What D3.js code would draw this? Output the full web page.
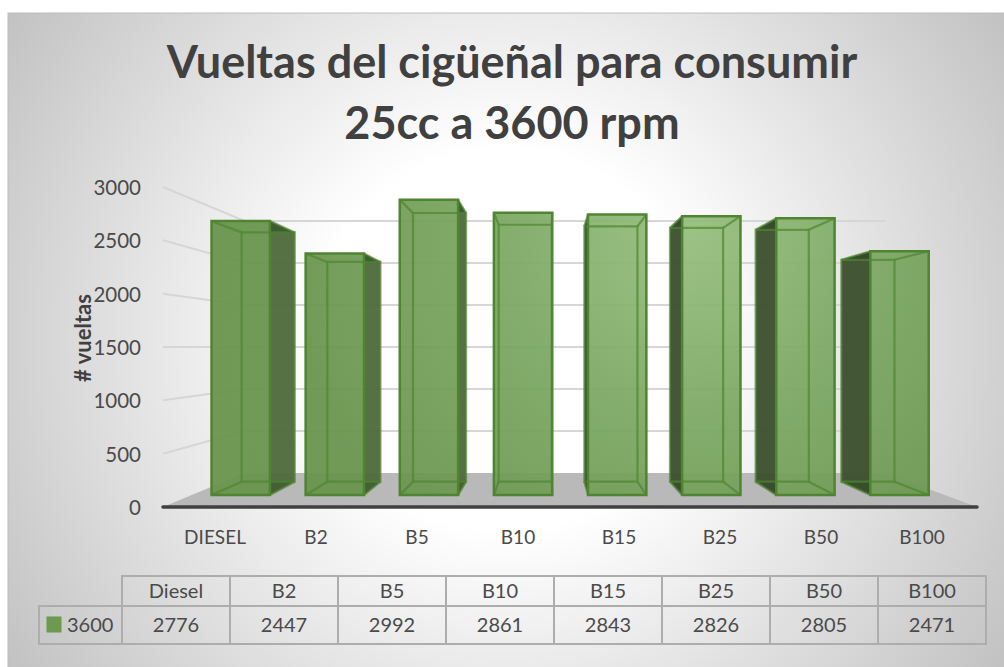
<!DOCTYPE html>
<html>
<head>
<meta charset="utf-8">
<script src="https://cdn.jsdelivr.net/npm/d3@7"></script>
<style>
html,body{margin:0;padding:0;background:#fff;overflow:hidden}
svg{display:block}
text{font-family:Lato,"Open Sans",sans-serif}
</style>
</head>
<body>
<svg id="chart" width="1004" height="667"></svg>
<script>
// Chart data
const axisCategories = ["DIESEL","B2","B5","B10","B15","B25","B50","B100"];
const tableCategories = ["Diesel","B2","B5","B10","B15","B25","B50","B100"];
const turns3600 = [2776,2447,2992,2861,2843,2826,2805,2471];
const yTicks = [0,500,1000,1500,2000,2500,3000];
const seriesName = "3600";
const titleLines = ["Vueltas del cigüeñal para consumir","25cc a 3600 rpm"];
const yAxisLabel = "# vueltas";

const svg = d3.select("#chart");
const defs = svg.append("defs");

// Chart area background
const bg = defs.append("radialGradient").attr("id","bgGrad")
  .attr("gradientUnits","userSpaceOnUse")
  .attr("cx",506).attr("cy",340).attr("r",595);
bg.append("stop").attr("offset","0.32").attr("stop-color","#ffffff");
bg.append("stop").attr("offset","1").attr("stop-color","#c2c2c2");

// Bar face tint: lighter around the middle of the plot
const barFill = defs.append("radialGradient").attr("id","barGrad")
  .attr("gradientUnits","userSpaceOnUse")
  .attr("cx",690).attr("cy",230).attr("r",400);
barFill.append("stop").attr("offset","0").attr("stop-color","#96bf7e");
barFill.append("stop").attr("offset","0.5").attr("stop-color","#7ba762");
barFill.append("stop").attr("offset","1").attr("stop-color","#69944d");

svg.append("rect").attr("x",8).attr("y",13).attr("width",1010).attr("height",670)
  .attr("fill","url(#bgGrad)").attr("stroke","#bdbdbd").attr("stroke-width",1);

// Front plane scales, projected toward a vanishing point for depth
const vp = {x:547,y:347};
const y = d3.scaleLinear().domain([0,3000]).range([507,187]);
const xBar = d3.scaleBand().domain(axisCategories).range([165,979]).paddingInner(0.38).paddingOuter(0.19);
const depth = d3.scaleLinear().domain([0,1]).range([1,0.7875]);
const barFront = 0.925, barBack = 0.842;
const project = (px,py,s) => [vp.x+(px-vp.x)*s, vp.y+(py-vp.y)*s];
const poly = pts => pts.map(p=>p.join(",")).join(" ");

// Floor and walls
const x0 = 163, x1 = 977;
const floor = [[x0,y(0)],[x1,y(0)],project(x1,y(0),depth(1)),project(x0,y(0),depth(1))];
svg.append("polygon").attr("points",poly(floor)).attr("fill","#b9b9b9");

const grid = svg.append("g").attr("fill","none").attr("stroke","#d6d6d6").attr("stroke-width",2);
yTicks.filter(t=>t>0).forEach(t=>{
  const a = [x0,y(t)], b = project(x0,y(t),depth(1)), c = project(x1,y(t),depth(1));
  grid.append("polyline").attr("points",poly([a,b,c]));
});

// Value axis
const yAxis = d3.axisLeft(y).tickValues(yTicks).tickSize(0).tickPadding(22).tickFormat(d3.format("d"));
const yG = svg.append("g").attr("transform",`translate(${x0},0)`).call(yAxis);
yG.select(".domain").remove();
yG.selectAll("text").attr("font-size",20.5).attr("fill","#4a4a4a").attr("dy","0.36em");

// Bars as translucent perspective boxes; a side wall only shows where it clears the front face
const bars = svg.append("g");
turns3600.forEach((v,i)=>{
  const L = xBar(axisCategories[i]), R = L+xBar.bandwidth(), T = y(v), B = y(0);
  const fTL=project(L,T,barFront), fTR=project(R,T,barFront), fBL=project(L,B,barFront), fBR=project(R,B,barFront);
  const bTL=project(L,T,barBack), bTR=project(R,T,barBack), bBL=project(L,B,barBack), bBR=project(R,B,barBack);
  const g = bars.append("g");
  const wall = (fT,bT,bB,fB,color)=>{
    g.append("polygon").attr("points",poly([fT,bT,bB,fB])).attr("fill",color).attr("fill-opacity",0.96);
    g.append("polygon").attr("points",poly([fT,bT,[fT[0],bT[1]]])).attr("fill","#24401a").attr("fill-opacity",0.45);
    g.append("polygon").attr("points",poly([fB,bB,[fB[0],bB[1]]])).attr("fill","#24401a").attr("fill-opacity",0.3);
  };
  if (bTL[0] < fTL[0]) wall(fTL,bTL,bBL,fBL,"#3c5130");
  if (bTR[0] > fTR[0]) wall(fTR,bTR,bBR,fBR,"#4f6c3d");
  g.append("polygon").attr("points",poly([fTL,fTR,fBR,fBL])).attr("fill","url(#barGrad)").attr("fill-opacity",0.94);
  const inner = g.append("g").attr("fill","none").attr("stroke","#4f8530").attr("stroke-opacity",0.7).attr("stroke-width",2.2);
  inner.append("polygon").attr("points",poly([bTL,bTR,bBR,bBL]));
  [[fTL,bTL],[fTR,bTR],[fBL,bBL],[fBR,bBR]].forEach(s=>inner.append("polyline").attr("points",poly(s)));
  g.append("polygon").attr("points",poly([fTL,fTR,fBR,fBL])).attr("fill","none").attr("stroke","#4f8530").attr("stroke-width",2.5);
});

// Front axis line
svg.append("line").attr("x1",x0).attr("x2",x1).attr("y1",y(0)).attr("y2",y(0))
  .attr("stroke","#404040").attr("stroke-width",3.5).attr("stroke-linecap","round");

// Category labels
const xLabel = d3.scalePoint().domain(axisCategories).range([215,922]);
svg.append("g").selectAll("text").data(axisCategories).join("text")
  .attr("x",d=>xLabel(d)).attr("y",544).attr("text-anchor","middle")
  .attr("font-size",19).attr("fill","#4a4a4a").text(d=>d);

// Title
svg.append("g").selectAll("text").data(titleLines).join("text")
  .attr("x",512).attr("y",(d,i)=>78+i*61).attr("text-anchor","middle")
  .attr("font-size",45).attr("font-weight",700).attr("fill","#404040").text(d=>d);

// Value axis title
svg.append("text").attr("transform","translate(91,338) rotate(-90)")
  .attr("text-anchor","middle").attr("font-size",22).attr("font-weight",700)
  .attr("fill","#404040").text(yAxisLabel);

// Data table
const tableRight = 986;
const col = d3.scaleBand().domain(tableCategories).range([122,tableRight]);
const rowTop = 576, rowMid = 606, rowBot = 644, tableLeft = 39;
const table = svg.append("g");
const lines = table.append("g").attr("stroke","#adadad").attr("stroke-width",2).attr("fill","none");
lines.append("polyline").attr("points",poly([[122,rowBot],[122,rowTop],[tableRight,rowTop],[tableRight,rowBot]]));
lines.append("rect").attr("x",tableLeft).attr("y",rowMid).attr("width",tableRight-tableLeft).attr("height",rowBot-rowMid);
lines.selectAll("line").data(tableCategories.slice(1)).join("line")
  .attr("x1",d=>col(d)).attr("x2",d=>col(d)).attr("y1",rowTop).attr("y2",rowBot);
table.selectAll("text.head").data(tableCategories).join("text").attr("class","head")
  .attr("x",d=>col(d)+col.bandwidth()/2).attr("y",598).attr("text-anchor","middle")
  .attr("font-size",20).attr("fill","#4a4a4a").text(d=>d);
table.selectAll("text.val").data(turns3600).join("text").attr("class","val")
  .attr("x",(d,i)=>col(tableCategories[i])+col.bandwidth()/2).attr("y",632).attr("text-anchor","middle")
  .attr("font-size",20).attr("fill","#4a4a4a").text(d=>d);
table.append("rect").attr("x",47).attr("y",617).attr("width",14).attr("height",15)
  .attr("fill","#6d9a52").attr("stroke","#6a9a4a");
table.append("text").attr("x",67).attr("y",632).attr("font-size",20).attr("fill","#4a4a4a").text(seriesName);
</script>
</body>
</html>
